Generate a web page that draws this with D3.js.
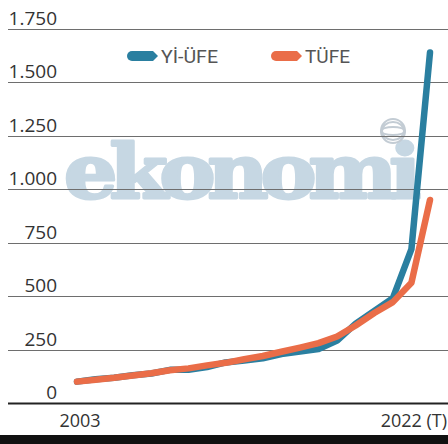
<!DOCTYPE html>
<html>
<head>
<meta charset="utf-8">
<script src="https://cdn.jsdelivr.net/npm/d3@7"></script>
<style>
  body { margin: 0; background: #fff; }
  svg { display: block; }
</style>
</head>
<body>
<div id="chart"></div>
<script>
// yearly index values, 2003 = 100
const years = d3.range(2003, 2023);
const yiUfe = [100, 111, 118, 130, 138, 155, 155, 168, 190, 199, 209, 229, 241, 252, 292, 371, 431, 491, 720, 1640];
const tufe = [100, 109, 118, 129, 139, 153, 162, 176, 188, 205, 220, 240, 259, 280, 311, 363, 421, 472, 563, 950];
const yTicks = [0, 250, 500, 750, 1000, 1250, 1500, 1750];
const xLabels = [{year: 2003, text: '2003'}, {year: 2022, text: '2022 (T)'}];
const seriesNames = ['Yİ-ÜFE', 'TÜFE'];
const colors = ['#2a7fa0', '#ea6d48'];

const width = 448, height = 444;

const svg = d3.select('#chart').append('svg')
    .attr('width', width)
    .attr('height', height);

const x = d3.scaleLinear().domain([2003, 2022]).range([77, 430]);
const y = d3.scaleLinear().domain([0, 1750]).range([403, 29]);

// watermark, heavy and stretched like the print logo
const wm = svg.append('text')
    .attr('x', 0)
    .attr('y', 0)
    .attr('letter-spacing', -7)
    .style('font-family', 'DejaVu Serif')
    .style('font-weight', 'bold')
    .style('font-size', '74px')
    .style('fill', '#c6d7e3')
    .style('stroke', '#c6d7e3')
    .style('stroke-width', 3)
    .style('stroke-linejoin', 'round')
    .text('ekonomi');
const wmBox = wm.node().getBBox();
wm.attr('transform', `translate(${64 - wmBox.x * 356 / wmBox.width},198) scale(${356 / wmBox.width},1)`);

const globe = svg.append('g')
    .attr('transform', 'translate(393,131)')
    .style('fill', 'none')
    .style('stroke', '#c3ccd4')
    .style('stroke-width', 2);
globe.append('circle').attr('r', 12);
globe.append('ellipse').attr('rx', 12).attr('ry', 4);
globe.append('ellipse').attr('rx', 11).attr('ry', 9);

// grid
svg.append('g')
    .selectAll('line')
    .data(yTicks)
    .join('line')
    .attr('x1', 8)
    .attr('x2', width)
    .attr('y1', d => Math.round(y(d)) + 0.5)
    .attr('y2', d => Math.round(y(d)) + 0.5)
    .style('stroke', d => d === 0 ? '#222' : '#6e6e6e')
    .style('stroke-width', d => d === 0 ? 1.8 : 1.2);

svg.append('g')
    .selectAll('text')
    .data(yTicks)
    .join('text')
    .attr('x', 57)
    .attr('y', d => y(d) - 4)
    .attr('text-anchor', 'end')
    .style('font-family', 'Open Sans')
    .style('font-size', '19px')
    .style('fill', '#333')
    .text(d => d3.format(',')(d).replace(/,/g, '.'));

svg.append('g')
    .selectAll('text')
    .data(xLabels)
    .join('text')
    .attr('x', d => d.year === 2003 ? x(d.year) + 3 : width - 1)
    .attr('y', 427)
    .attr('text-anchor', d => d.year === 2003 ? 'middle' : 'end')
    .style('font-family', 'Open Sans')
    .style('font-size', '18px')
    .style('fill', '#333')
    .text(d => d.text);

// lines
const line = d3.line()
    .x((d, i) => x(years[i]))
    .y(d => y(d));

svg.append('g')
    .selectAll('path')
    .data([yiUfe, tufe])
    .join('path')
    .attr('d', line)
    .style('fill', 'none')
    .style('stroke', (d, i) => colors[i])
    .style('stroke-width', 6.5)
    .style('stroke-linecap', 'round')
    .style('stroke-linejoin', 'round');

// legend
const legend = svg.append('g')
    .selectAll('g')
    .data(seriesNames)
    .join('g')
    .attr('transform', (d, i) => `translate(${128 + i * 144},56)`);

legend.append('path')
    .attr('d', 'M4,-5 L25,-5 L30,0 L25,5 L4,5 A5,5 0 0 1 4,-5 Z')
    .style('fill', (d, i) => colors[i]);

legend.append('text')
    .attr('x', 33)
    .attr('y', 7)
    .attr('textLength', (d, i) => i === 0 ? 57 : 45)
    .attr('lengthAdjust', 'spacingAndGlyphs')
    .style('font-family', 'Roboto')
    .style('font-size', '18px')
    .style('fill', '#555')
    .text(d => d);

// bottom bar
svg.append('rect')
    .attr('x', 0)
    .attr('y', 435)
    .attr('width', width)
    .attr('height', height - 435)
    .style('fill', '#111');
</script>
</body>
</html>
